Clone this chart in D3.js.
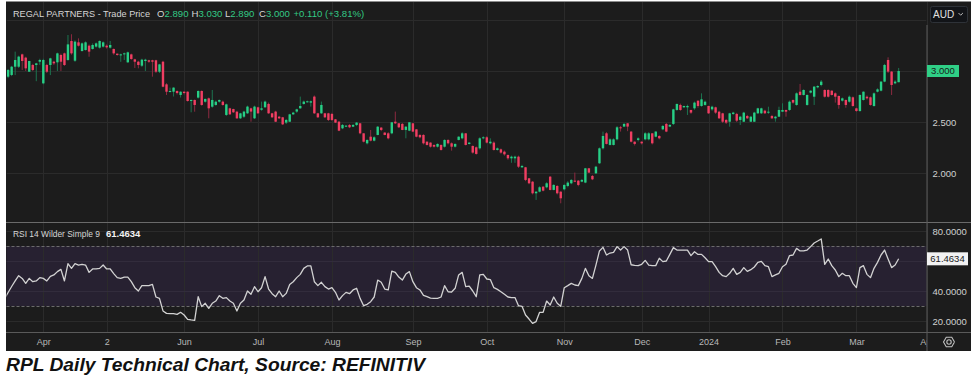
<!DOCTYPE html>
<html><head><meta charset="utf-8">
<script src="https://cdn.jsdelivr.net/npm/d3@7"></script>
<style>
html,body{margin:0;padding:0;background:#fff;}
svg{display:block;font-family:"Liberation Sans",Arial,sans-serif;}
</style></head><body>
<svg id="c" width="975" height="379"></svg>
<script>
// ---------- data ----------
const open=[2.96,2.944,2.961,3.042,3.042,3.163,3.131,2.993,3.059,3.059,
3.091,2.879,3.059,3.059,3.091,3.085,3.157,3.173,3.108,3.294,
3.101,3.281,3.196,3.206,3.248,3.216,3.239,3.229,3.239,3.248,
3.229,3.216,3.170,3.160,3.170,3.085,3.163,3.114,3.091,3.052,
3.098,3.105,3.105,3.105,2.993,3.091,2.869,2.797,2.797,2.804,
2.765,2.797,2.797,2.706,2.716,2.739,2.804,2.699,2.732,2.650,
2.667,2.699,2.699,2.569,2.634,2.627,2.601,2.536,2.552,2.585,
2.634,2.536,2.644,2.620,2.644,2.677,2.585,2.602,2.552,2.546,
2.494,2.503,2.575,2.602,2.634,2.677,2.696,2.690,2.749,2.585,
2.585,2.585,2.585,2.579,2.526,2.503,2.438,2.454,2.471,2.454,
2.471,2.487,2.389,2.291,2.356,2.317,2.373,2.445,2.396,2.389,
2.389,2.503,2.487,2.481,2.422,2.415,2.487,2.428,2.373,2.373,
2.307,2.298,2.275,2.258,2.275,2.258,2.324,2.291,2.258,2.324,
2.340,2.389,2.285,2.265,2.252,2.242,2.340,2.350,2.291,2.298,
2.226,2.232,2.209,2.177,2.144,2.144,2.160,2.056,2.056,1.948,
1.915,1.801,1.817,1.866,1.860,1.964,1.834,1.873,1.817,1.840,
1.873,1.899,1.925,1.925,1.915,1.906,2.046,1.971,1.997,2.095,
2.242,2.389,2.275,2.275,2.330,2.448,2.455,2.487,2.406,2.307,
2.324,2.307,2.330,2.330,2.389,2.356,2.363,2.428,2.481,2.455,
2.481,2.618,2.667,2.644,2.644,2.618,2.634,2.709,2.657,2.667,
2.657,2.624,2.644,2.601,2.585,2.520,2.503,2.579,2.579,2.520,
2.503,2.559,2.503,2.503,2.585,2.585,2.611,2.592,2.559,2.536,
2.552,2.601,2.618,2.618,2.716,2.667,2.797,2.765,2.667,2.788,
2.748,2.840,2.863,2.814,2.814,2.807,2.781,2.755,2.709,2.716,
2.699,2.742,2.634,2.608,2.716,2.748,2.742,2.657,2.797,2.807,
2.896,3.108,2.994,2.879,2.890];
const high=[3.00,3.02,3.05,3.19,3.15,3.17,3.14,3.10,3.07,3.08,
3.12,3.12,3.07,3.13,3.10,3.18,3.17,3.18,3.353,3.36,
3.30,3.32,3.28,3.29,3.26,3.27,3.28,3.30,3.29,3.26,
3.294,3.22,3.17,3.17,3.18,3.19,3.17,3.12,3.10,3.12,
3.12,3.11,3.11,3.11,3.07,3.10,2.88,2.837,2.84,2.81,
2.80,2.80,2.80,2.72,2.72,2.81,2.81,2.73,2.74,2.814,
2.71,2.72,2.71,2.68,2.64,2.63,2.61,2.59,2.61,2.66,
2.64,2.66,2.65,2.70,2.71,2.69,2.59,2.61,2.56,2.55,
2.53,2.58,2.60,2.63,2.749,2.71,2.71,2.71,2.76,2.59,
2.70,2.59,2.59,2.59,2.53,2.51,2.48,2.47,2.48,2.48,
2.50,2.49,2.39,2.33,2.422,2.36,2.46,2.45,2.40,2.40,
2.50,2.602,2.49,2.49,2.46,2.50,2.49,2.43,2.38,2.38,
2.31,2.30,2.28,2.29,2.28,2.33,2.33,2.30,2.29,2.36,
2.40,2.39,2.30,2.27,2.26,2.35,2.36,2.36,2.340,2.31,
2.25,2.24,2.22,2.18,2.17,2.17,2.17,2.08,2.06,1.95,
1.92,1.82,1.87,1.87,1.91,1.97,1.89,1.88,1.82,1.89,
1.92,1.94,2.004,1.93,1.94,2.05,2.05,1.98,2.07,2.25,
2.406,2.40,2.34,2.34,2.46,2.46,2.49,2.49,2.41,2.31,
2.35,2.31,2.40,2.40,2.39,2.41,2.37,2.47,2.49,2.48,
2.63,2.68,2.68,2.66,2.67,2.62,2.70,2.71,2.781,2.71,
2.66,2.66,2.65,2.61,2.59,2.53,2.59,2.60,2.59,2.56,
2.60,2.57,2.56,2.60,2.64,2.64,2.62,2.650,2.57,2.56,
2.650,2.683,2.62,2.71,2.72,2.79,2.873,2.82,2.77,2.81,
2.85,2.86,2.912,2.82,2.82,2.81,2.79,2.76,2.74,2.72,
2.76,2.75,2.64,2.77,2.80,2.76,2.75,2.79,2.83,2.90,
3.07,3.134,3.00,2.91,3.030];
const low=[2.94,2.93,2.95,2.96,3.03,3.01,3.00,2.99,3.00,2.90,
3.06,2.87,2.98,2.96,3.06,3.00,3.00,3.05,3.10,3.16,
3.09,3.24,3.19,3.20,3.14,3.21,3.23,3.22,3.23,3.22,
3.22,3.16,3.15,3.09,3.108,3.08,3.11,3.03,3.026,3.04,
3.00,3.08,2.944,2.98,2.98,2.84,2.765,2.79,2.75,2.77,
2.74,2.77,2.70,2.595,2.601,2.73,2.66,2.69,2.536,2.64,
2.66,2.69,2.66,2.56,2.57,2.59,2.53,2.53,2.54,2.58,
2.503,2.53,2.58,2.61,2.64,2.58,2.54,2.50,2.53,2.47,
2.48,2.50,2.57,2.59,2.63,2.67,2.69,2.651,2.58,2.54,
2.58,2.54,2.51,2.51,2.49,2.41,2.43,2.45,2.44,2.45,
2.46,2.38,2.30,2.28,2.31,2.31,2.37,2.41,2.37,2.33,
2.38,2.48,2.44,2.42,2.340,2.41,2.40,2.35,2.34,2.28,
2.27,2.25,2.25,2.25,2.22,2.25,2.28,2.219,2.25,2.32,
2.33,2.27,2.28,2.19,2.18,2.23,2.33,2.29,2.28,2.22,
2.22,2.19,2.17,2.13,2.10,2.10,2.05,2.05,1.92,1.89,
1.79,1.736,1.81,1.82,1.85,1.83,1.83,1.79,1.703,1.83,
1.86,1.89,1.91,1.87,1.91,1.90,2.00,1.93,1.99,2.09,
2.23,2.28,2.27,2.27,2.32,2.406,2.45,2.41,2.30,2.27,
2.31,2.28,2.32,2.32,2.28,2.35,2.33,2.42,2.40,2.45,
2.47,2.61,2.61,2.64,2.569,2.58,2.62,2.64,2.65,2.66,
2.58,2.61,2.58,2.53,2.49,2.48,2.454,2.57,2.50,2.471,
2.50,2.53,2.50,2.50,2.58,2.58,2.58,2.58,2.53,2.503,
2.55,2.60,2.552,2.61,2.68,2.66,2.76,2.76,2.66,2.78,
2.667,2.83,2.85,2.74,2.74,2.76,2.69,2.63,2.70,2.64,
2.69,2.65,2.60,2.60,2.71,2.72,2.66,2.65,2.79,2.80,
2.89,2.98,2.765,2.87,2.890];
const close=[2.99,3.010,3.042,3.108,3.141,3.098,3.026,3.098,3.010,3.075,
3.108,3.108,2.993,3.124,3.075,3.173,3.091,3.059,3.261,3.173,
3.288,3.248,3.271,3.281,3.190,3.255,3.271,3.294,3.281,3.232,
3.255,3.173,3.157,3.163,3.173,3.183,3.118,3.091,3.059,3.111,
3.111,3.091,3.091,2.993,3.065,2.846,2.797,2.804,2.837,2.784,
2.797,2.784,2.706,2.716,2.667,2.804,2.667,2.726,2.634,2.716,
2.699,2.716,2.667,2.673,2.575,2.595,2.536,2.585,2.602,2.651,
2.602,2.651,2.585,2.634,2.700,2.585,2.546,2.503,2.536,2.477,
2.520,2.575,2.592,2.624,2.657,2.700,2.703,2.703,2.585,2.546,
2.667,2.546,2.520,2.520,2.494,2.415,2.471,2.464,2.448,2.471,
2.494,2.389,2.307,2.324,2.317,2.350,2.454,2.422,2.373,2.340,
2.497,2.487,2.448,2.422,2.454,2.497,2.406,2.356,2.350,2.291,
2.275,2.258,2.258,2.285,2.226,2.324,2.291,2.258,2.285,2.356,
2.389,2.275,2.298,2.200,2.187,2.340,2.350,2.298,2.307,2.226,
2.242,2.200,2.183,2.144,2.160,2.160,2.062,2.069,1.932,1.899,
1.801,1.817,1.860,1.827,1.899,1.834,1.883,1.801,1.752,1.883,
1.906,1.932,1.915,1.883,1.932,2.046,2.004,1.938,2.062,2.242,
2.363,2.285,2.330,2.330,2.448,2.440,2.481,2.455,2.307,2.285,
2.340,2.291,2.389,2.389,2.291,2.406,2.340,2.461,2.406,2.471,
2.624,2.677,2.618,2.657,2.657,2.592,2.690,2.657,2.722,2.699,
2.585,2.650,2.592,2.536,2.503,2.494,2.585,2.592,2.513,2.552,
2.592,2.536,2.552,2.592,2.634,2.634,2.585,2.601,2.536,2.552,
2.618,2.618,2.601,2.699,2.690,2.781,2.765,2.814,2.765,2.807,
2.847,2.853,2.896,2.748,2.748,2.765,2.748,2.667,2.732,2.667,
2.748,2.657,2.608,2.765,2.797,2.732,2.667,2.781,2.820,2.896,
3.059,2.994,2.863,2.896,3.000];
const rsi=[35,39,43,46.7,50.2,48.4,45.1,48.4,46.2,46.7,
48.9,48.4,46.7,49.8,50.7,52.9,54.4,46.7,58.2,55.1,
58.2,57.3,57.8,57.3,52.4,54.7,54.7,55.1,57.3,54.7,
54.7,51.6,48.9,48.4,49.3,49.3,46.2,42.2,40,43.6,
43.6,43.6,44.4,36,35.1,26.7,25.1,24.9,24.9,24.4,
25.8,24,21.1,20.7,20.4,36.2,29.6,31.8,28.4,31.8,
33.3,36.9,35.1,35.6,33.3,31.8,26.7,31.8,34,40,
37.8,42.9,39.5,42.2,49.6,41.3,38.2,36.2,40,36.2,
38.4,44.4,46.2,48.9,51.1,55.1,56.7,56.7,46.2,43.6,
45.8,42.9,41.3,42.2,39.1,34,36.9,39.1,38.2,40.7,
41.8,35.1,30.2,31.1,32.9,36,47.3,45.8,41.3,40.7,
53.3,52.4,49.3,47.3,51.3,52.9,46.2,42.2,40.7,37.1,
36.2,35.3,35.1,35.1,36,43.6,39.5,39.3,41.8,50.7,
52.4,42.9,43.3,40,36.2,50.7,51.1,48,47.6,42.2,
41.1,39.5,37.8,36,35.6,35.6,30.2,29.8,24,21.3,
18.4,19.6,25.8,25.8,33.3,30.7,36,31.8,29.8,42.2,
43.6,45.1,44,43.6,48.4,55.1,50.2,48.4,57.3,66.7,
69.1,64,65.3,65.8,69.6,67.3,69.6,67.3,57.5,57.1,
56.9,57.8,60.4,57.3,56.9,56.9,61.8,59.6,60,64.4,
68.9,67.3,67.3,67.3,67.3,63.6,66.2,64.4,64.4,62.2,
59.6,59.6,56.2,52.4,50.2,49.6,51.8,55.1,51.1,52.4,
55.6,53.1,54.2,56,59.1,59.8,56.9,56.2,49.6,50.7,
51.8,56.2,57.8,63.6,64,68.4,66.7,66.7,67.3,69.6,
72,73.3,74.7,57.8,61.3,56.9,54,49.6,51.8,50.2,
50.2,45.1,42.3,55.6,56.9,51.1,48.9,55.1,59.1,64,
67.3,61.3,55.6,57.3,61.4634];
const monthLabels=["Apr","2","Jun","Jul","Aug","Sep","Oct","Nov","Dec","2024","Feb","Mar","Apr"];
const priceTicks=[2.0,2.5,3.0,3.5];
const priceLabelTicks=[2.0,2.5];
const rsiTicks=[20,40,60,80];
const rsiLabelTicks=[20,40,80];
const rsiBand=[30,70];
const holidays=["2023-04-07","2023-04-10","2023-05-01","2023-06-12","2023-12-25","2023-12-26","2024-01-01","2024-01-26","2024-03-29","2024-04-01"];
const header={name:"REGAL PARTNERS - Trade Price",o:"2.890",h:"3.030",l:"2.890",c:"3.000",chg:"+0.110 (+3.81%)"};
const lastPrice=3.000;
const lastRsi=61.4634;

// ---------- drawing ----------
const svg=d3.select("#c");
const fmt=d3.timeFormat("%Y-%m-%d");
const days=d3.timeDay.range(new Date(2023,2,17),new Date(2024,3,3))
  .filter(d=>d.getDay()%6!==0 && !holidays.includes(fmt(d)));
const keys=days.map(fmt);

const L=6.5, R=926.5, PT=2, PB=222, RB=332, BOT=351, RIGHT=971;
const x=d3.scalePoint().domain(keys).range([4.6,926.8]);
const y=d3.scaleLinear().domain([2,3]).range([173,71]);
const yr=d3.scaleLinear().domain([20,80]).range([321,231]);

const GREEN="#27cf86", RED="#f03e62", GW="#1c7450", RW="#8c2a40";

svg.append("rect").attr("x",L-0.5).attr("y",1.5).attr("width",RIGHT-L+0.5).attr("height",BOT-1.5).attr("fill","#1c1c1c");

const defs=svg.append("defs");
defs.append("clipPath").attr("id","cp").append("rect").attr("x",L).attr("y",PT).attr("width",R-L).attr("height",PB-PT);
defs.append("clipPath").attr("id","cr").append("rect").attr("x",L).attr("y",PB).attr("width",R-L).attr("height",RB-PB);
defs.append("clipPath").attr("id","cx").append("rect").attr("x",L).attr("y",RB).attr("width",R-L).attr("height",BOT-RB);

// month ticks = first trading day of each month
const mTicks=keys.filter((k,i)=>i>0 && days[i].getMonth()!==days[i-1].getMonth());

// RSI band
svg.append("rect").attr("x",L).attr("width",R-L).attr("y",yr(rsiBand[1])).attr("height",yr(rsiBand[0])-yr(rsiBand[1])).attr("fill","#272131");

// grids
const grid=svg.append("g").attr("stroke","#2b2b2b").attr("stroke-width",1);
grid.selectAll("line.v").data(mTicks).join("line").attr("class","v")
  .attr("x1",d=>Math.round(x(d))+0.5).attr("x2",d=>Math.round(x(d))+0.5).attr("y1",PT).attr("y2",RB);
grid.append("g").attr("clip-path","url(#cp)").selectAll("line").data(priceTicks).join("line")
  .attr("x1",L).attr("x2",R).attr("y1",d=>Math.round(y(d))+0.5).attr("y2",d=>Math.round(y(d))+0.5);
grid.selectAll("line.r").data(rsiTicks).join("line").attr("class","r")
  .attr("x1",L).attr("x2",R).attr("y1",d=>Math.round(yr(d))+0.5).attr("y2",d=>Math.round(yr(d))+0.5)
  .attr("stroke",d=>(d>rsiBand[0]&&d<rsiBand[1])?"#322c3c":"#2b2b2b");
svg.selectAll("line.band").data(rsiBand).join("line").attr("class","band")
  .attr("x1",L).attr("x2",R).attr("y1",d=>Math.round(yr(d))+0.5).attr("y2",d=>Math.round(yr(d))+0.5)
  .attr("stroke","#6b6b6b").attr("stroke-dasharray","3,2");

// candles
const candles=close.map((c,i)=>({k:keys[i],o:open[i],h:high[i],l:low[i],c}));
const cg=svg.append("g").attr("clip-path","url(#cp)");
cg.selectAll("line").data(candles).join("line")
  .attr("x1",d=>x(d.k)).attr("x2",d=>x(d.k)).attr("y1",d=>y(d.h)).attr("y2",d=>y(d.l))
  .attr("stroke",d=>d.c>=d.o?GW:RW).attr("stroke-width",1);
cg.selectAll("rect").data(candles).join("rect")
  .attr("x",d=>x(d.k)-1.2).attr("width",2.4)
  .attr("y",d=>y(Math.max(d.o,d.c))).attr("height",d=>Math.max(1,Math.abs(y(d.o)-y(d.c))))
  .attr("fill",d=>d.c>=d.o?GREEN:RED);

// RSI line
svg.append("path").attr("clip-path","url(#cr)").datum(rsi)
  .attr("d",d3.line().x((d,i)=>x(keys[i])).y(d=>yr(d)))
  .attr("fill","none").attr("stroke","#d2d2d2").attr("stroke-width",1.3).attr("stroke-linejoin","round");

// separators
svg.append("line").attr("x1",L-0.5).attr("x2",RIGHT).attr("y1",PB+0.5).attr("y2",PB+0.5).attr("stroke","#6a6a6a");
svg.append("line").attr("x1",L-0.5).attr("x2",RIGHT).attr("y1",RB+0.5).attr("y2",RB+0.5).attr("stroke","#5a5a5a");
svg.append("line").attr("x1",R+0.5).attr("x2",R+0.5).attr("y1",25).attr("y2",BOT).attr("stroke","#5a5a5a");

// right axes
const ax1=svg.append("g").attr("transform",`translate(${R+6},0)`)
  .call(d3.axisRight(y).tickValues(priceLabelTicks).tickFormat(d3.format(".3f")).tickSize(0).tickPadding(0));
const ax2=svg.append("g").attr("transform",`translate(${R+6},0)`)
  .call(d3.axisRight(yr).tickValues(rsiLabelTicks).tickFormat(d3.format(".4f")).tickSize(0).tickPadding(0));
[ax1,ax2].forEach(a=>{a.select(".domain").remove();a.selectAll("text").attr("fill","#d0d0d0").attr("font-size","9.5px").attr("font-family","Liberation Sans, Arial, sans-serif");});

// x axis (outer group clipped in page coordinates, inner group translated)
const ax3=svg.append("g").attr("clip-path","url(#cx)").append("g").attr("transform",`translate(0,${RB+7})`)
  .call(d3.axisBottom(x).tickValues(mTicks).tickFormat((d,i)=>monthLabels[i]).tickSize(0).tickPadding(0));
ax3.select(".domain").remove();
ax3.selectAll("text").attr("fill","#b8b8b8").attr("font-size","9px").attr("font-family","Liberation Sans Narrow, Liberation Sans, Arial, sans-serif");

// last price tag
svg.append("rect").attr("x",R+0.5).attr("y",y(lastPrice)-6).attr("width",32).attr("height",12).attr("fill","#2fcf86");
svg.append("text").attr("x",R+16.5).attr("y",y(lastPrice)+3.3).attr("text-anchor","middle").attr("font-size","9.5px").attr("fill","#1a1a1a").text(d3.format(".3f")(lastPrice));
// last rsi tag
svg.append("rect").attr("x",R+0.5).attr("y",yr(lastRsi)-6.5).attr("width",41).attr("height",13).attr("fill","#f2f2f2");
svg.append("text").attr("x",R+21).attr("y",yr(lastRsi)+3.3).attr("text-anchor","middle").attr("font-size","9.5px").attr("fill","#1a1a1a").text(d3.format(".4f")(lastRsi));

// AUD box
svg.append("rect").attr("x",930.5).attr("y",6.5).attr("width",37).attr("height",16).attr("rx",2).attr("fill","#121418").attr("stroke","#2e3238");
svg.append("text").attr("x",933).attr("y",18).attr("font-size","10px").attr("fill","#e0e0e0").text("AUD");
svg.append("path").attr("d","M958.5,13 l2.2,2.2 l2.2,-2.2").attr("fill","none").attr("stroke","#bbb").attr("stroke-width",1);

// gear icon
const gx=949, gy=342;
svg.append("path").attr("d",d3.line()(d3.range(7).map(i=>[gx+5.5*Math.cos(Math.PI/3*i),gy+5.5*Math.sin(Math.PI/3*i)])))
  .attr("fill","none").attr("stroke","#c0c0c0").attr("stroke-width",1.1);
svg.append("circle").attr("cx",gx).attr("cy",gy).attr("r",2.2).attr("fill","none").attr("stroke","#c0c0c0").attr("stroke-width",1.1);

// header
const hg=svg.append("g").attr("font-size","9.6px");
hg.append("text").attr("x",13).attr("y",17).attr("fill","#d6d6d6")
  .attr("textLength",137).attr("lengthAdjust","spacingAndGlyphs").text(header.name);
const parts=[["O",header.o,157],["H",header.h,191.5],["L",header.l,225],["C",header.c,259]];
parts.forEach(p=>{
  const t=hg.append("text").attr("x",p[2]).attr("y",17);
  t.append("tspan").attr("fill","#d6d6d6").text(p[0]);
  t.append("tspan").attr("fill","#33c985").text(p[1]);
});
hg.append("text").attr("x",293.5).attr("y",17).attr("fill","#33c985").text(header.chg);

// RSI header
svg.append("text").attr("x",13).attr("y",236.5).attr("font-size","9px").attr("fill","#d6d6d6")
  .attr("textLength",87).attr("lengthAdjust","spacingAndGlyphs").text("RSI 14 Wilder Simple 9");
svg.append("text").attr("x",106).attr("y",236.5).attr("font-size","9.5px").attr("font-weight","bold").attr("fill","#f2f2f2").text(d3.format(".4f")(lastRsi));

// caption
svg.append("text").attr("x",6).attr("y",371).attr("font-size","19px").attr("font-weight","bold").attr("font-style","italic")
  .attr("font-family","Liberation Sans Narrow, Liberation Sans, Arial, sans-serif")
  .attr("textLength",419).attr("lengthAdjust","spacingAndGlyphs").attr("fill","#111")
  .text("RPL Daily Technical Chart, Source: REFINITIV");
</script>
</body></html>
